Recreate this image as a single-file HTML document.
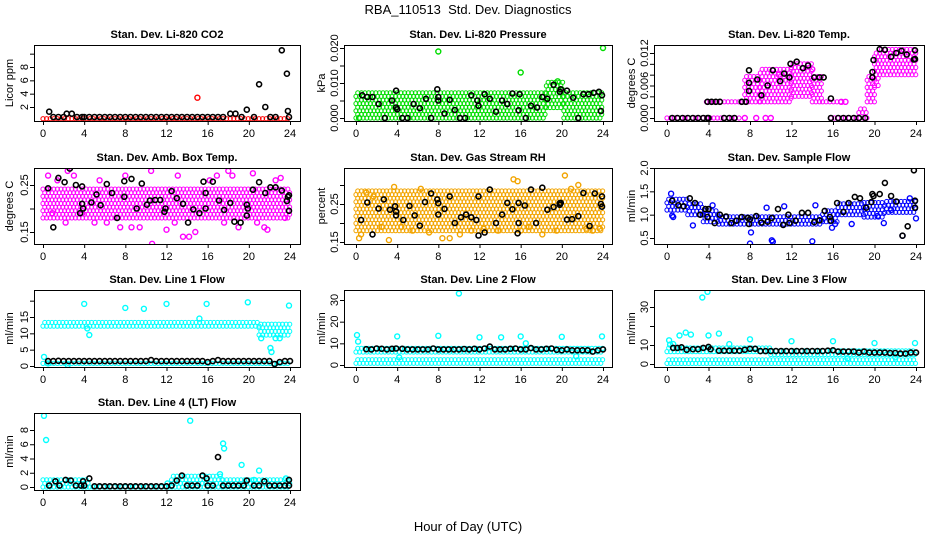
<!DOCTYPE html>
<html><head><meta charset="utf-8">
<style>
html,body{margin:0;padding:0;background:#fff;}
svg{display:block;font-family:"Liberation Sans",Arial,sans-serif;}
</style></head>
<body>
<svg id="chart" width="936" height="540" viewBox="0 0 936 540">
<text x="468" y="14" text-anchor="middle" font-size="13" xml:space="preserve">RBA_110513  Std. Dev. Diagnostics</text>
<text x="468" y="531" text-anchor="middle" font-size="13">Hour of Day (UTC)</text>
</svg>
<script>
// ---------- DATA ----------
const hourTicks = [0,4,8,12,16,20,24];

// Panel 1: CO2
const co2BandStart=[0], co2BandEnd=[24], co2BandLo=[0.25], co2BandHi=[0.75];
const co2ExtraH=[15.0], co2ExtraV=[3.4];
const co2BlackH=[0.6,1.0,1.5,2.0,2.3,2.8,3.3,3.8,4.0,4.5,5.0,5.5,6.0,6.5,7.0,7.5,8.0,8.5,9.0,9.5,10,10.5,11,11.5,12,12.5,13,13.5,14,14.5,15,15.5,16,16.5,17,17.5,18.2,18.7,19.3,19.8,20.5,21.0,21.6,22.1,22.6,23.2,23.7,23.8,23.9];
const co2BlackV=[1.3,.5,.5,.5,1.0,1.0,.5,.5,.5,.5,.5,.5,.5,.5,.5,.5,.5,.5,.5,.5,.5,.5,.5,.5,.5,.5,.5,.5,.5,.5,.5,.5,.5,.5,.5,.5,1.0,1.0,.5,1.6,.5,5.4,2.0,.5,.5,10.5,7.0,1.4,.5];
const co2Ticks=[2,4,6,8,10], co2TickLabels=["2","4","6","8",""];

// Panel 2: Pressure
const prBandStart=[0,18.5,20.2], prBandEnd=[18.5,20.2,24], prBandLo=[0,0.003,0], prBandHi=[0.0072,0.0102,0.0072];
const prExtraH=[8,16,24,0.3,19.6], prExtraV=[0.019,0.013,0.020,0,0.0105];
const prBlackH=[0.6,1.1,1.6,2.2,2.8,3.5,3.9,3.9,4.0,4.5,5.0,5.6,6.2,6.8,7.3,7.9,8.0,8.0,8.6,9.1,9.6,10.1,10.6,11.2,11.8,11.9,12.5,13.0,13.6,14.2,14.7,15.2,15.8,15.9,16.5,17.0,17.6,18.1,18.6,19.2,19.8,19.9,20.5,21.1,21.6,22.1,22.6,23.1,23.6,23.8,23.9];
const prBlackV=[.0065,.006,.006,.004,0,.005,.0078,.003,.0025,0,0,.004,.0028,.0055,0,.0082,.006,.005,.0013,.0052,.0023,0,0,.0065,.005,.0035,.0068,.0055,.0018,.005,.004,.007,.0022,.0068,0,.0035,.003,.006,.0055,.0095,.0075,.0082,.0078,.0058,0,.0068,.0068,.0072,.0075,.002,.0065];
const prTicks=[0,0.005,0.010,0.015,0.020], prTickLabels=["0.000","","0.010","","0.020"];

// Panel 3: Li-820 Temp
const tpBandStart=[0,15.8,3.8,7.5,9,12,14,15,18.5,19.3,20,20.5], tpBandEnd=[7.2,19.3,7.5,9,12,14,15,16.8,19.3,20,20.5,24];
const tpBandLo=[0,0,0.003,0.003,0.003,0.004,0.003,0.003,0.001,0.003,0.006,0.008], tpBandHi=[0,0,0.0035,0.008,0.009,0.010,0.008,0.003,0.002,0.008,0.012,0.0128];
const tpExtraH=[7.5,8.6,9.5,10.0,10.8,14.0,16.8,17.2], tpExtraV=[0,0,0,0,0.008,0.009,0.003,0.003];
const tpBlackH=[0.5,1.0,1.5,2.0,2.5,3.0,3.5,3.9,4.0,5.5,6.0,6.5,3.9,4.3,4.7,5.1,7.2,7.6,7.9,7.9,7.9,8.7,9.1,9.7,10.2,10.9,11.3,11.8,11.9,12.5,13.1,13.6,14.2,14.7,15.1,15.8,15.8,16.5,17.0,17.5,18.0,18.5,19.1,19.8,19.8,19.9,20.5,21.0,21.6,22.1,22.6,23.1,23.8,23.9,23.9];
const tpBlackV=[0,0,0,0,0,0,0,0,0,0,0,0,.003,.003,.003,.003,.003,.003,.0088,.0065,.005,.0071,.0042,.006,.0088,.0068,.0082,.0075,.010,.0104,.0092,.0097,.0075,.0075,.0075,.0036,0,0,0,0,0,0,0,.0075,.0085,.0107,.0127,.0126,.0113,.012,.0124,.0117,.0108,.0125,.0109];
const tpTicks=[0,0.002,0.004,0.006,0.008,0.010,0.012], tpTickLabels=["0.000","","","0.006","","","0.012"];

// Panel 4: Amb Box Temp
const abBandStart=[0], abBandEnd=[24], abBandLo=[0.18], abBandHi=[0.245];
const abExtraH=[0.5,0.9,1.4,2.2,2.4,3.0,3.8,5.0,5.5,6.2,7.5,8.0,8.6,9.4,10.5,10.6,12.0,12.8,13.1,13.6,14.2,14.8,16.2,16.9,17.6,18.0,18.4,19.0,20.4,20.8,21.5,21.8,22.6,23.1,23.5],
      abExtraV=[0.27,0.19,0.26,0.17,0.28,0.27,0.19,0.17,0.26,0.17,0.16,0.27,0.16,0.16,0.28,0.125,0.155,0.17,0.27,0.14,0.14,0.15,0.26,0.27,0.17,0.28,0.27,0.16,0.275,0.17,0.16,0.155,0.26,0.265,0.18];
const abBlackH=[0.5,1.0,1.5,2.1,2.6,3.2,3.6,3.8,3.8,3.9,4.7,5.2,5.6,6.2,6.7,7.2,7.9,7.9,8.6,9.1,9.6,10.1,10.4,10.9,11.4,11.8,11.9,12.5,13.0,13.6,14.1,14.6,15.2,15.6,15.8,15.8,16.5,17.1,17.6,18.2,18.6,19.2,19.8,19.8,19.9,20.4,21.0,21.6,22.1,22.6,23.2,23.7,23.8,23.9,23.9];
const abBlackV=[.243,.16,.265,.256,.285,.25,.19,.247,.21,.20,.213,.23,.207,.252,.233,.18,.258,.225,.263,.20,.253,.208,.217,.218,.218,.193,.200,.237,.222,.21,.17,.198,.19,.257,.233,.20,.257,.217,.197,.212,.172,.17,.208,.185,.20,.24,.256,.233,.245,.245,.238,.216,.225,.228,.195];
const abTicks=[0.15,0.20,0.25], abTickLabels=["0.15","","0.25"];

// Panel 5: Gas Stream RH
const rhBandStart=[0], rhBandEnd=[24], rhBandLo=[0.18], rhBandHi=[0.285];
const rhExtraH=[0.3,0.5,1.0,1.7,2.5,3.2,3.7,4.4,5.5,6.3,7.1,8.4,9.1,10.1,11.2,12.4,13.8,15.3,15.7,16.0,16.8,18.1,19.5,20.3,20.9,21.6,22.4,23.0,23.7],
      rhExtraV=[0.16,0.17,0.28,0.27,0.19,0.155,0.295,0.19,0.18,0.29,0.175,0.16,0.16,0.17,0.18,0.185,0.18,0.315,0.31,0.18,0.19,0.17,0.18,0.325,0.29,0.3,0.185,0.18,0.185];
const rhBlackH=[0.5,1.1,1.6,2.2,2.7,3.3,3.8,3.9,3.9,4.6,5.2,5.7,6.2,6.7,7.3,7.9,8.0,8.0,8.6,9.1,9.6,10.2,10.7,11.2,11.7,11.9,11.9,12.5,13.0,13.6,14.2,14.7,15.2,15.7,15.8,15.8,16.4,17.0,17.5,18.1,18.6,19.2,19.8,19.8,19.9,20.5,21.0,21.6,22.1,22.7,23.2,23.8,23.9,23.9];
const rhBlackV=[.208,.254,.17,.238,.262,.235,.244,.23,.22,.208,.245,.22,.193,.255,.278,.262,.252,.222,.237,.27,.2,.215,.222,.215,.208,.27,.167,.175,.288,.2,.222,.253,.236,.173,.253,.2,.246,.288,.2,.293,.235,.242,.252,.248,.253,.209,.21,.218,.279,.192,.278,.25,.27,.243];
const rhTicks=[0.15,0.20,0.25,0.30], rhTickLabels=["0.15","","0.25",""];

// Panel 6: Sample Flow
const sfBandStart=[0,2,3.5,5,15,16.5,19,21], sfBandEnd=[2,3.5,5,15,16.5,19,21,24];
const sfBandLo=[1.1,1.0,0.85,0.8,0.85,1.0,0.95,1.05], sfBandHi=[1.35,1.3,1.15,1.0,1.1,1.25,1.3,1.3];
const sfExtraH=[0.4,0.5,0.6,2.5,4.4,8.0,8.1,9.6,10.1,10.2,11.3,14.0,14.3,15.9,16.2,17.8,20.3,20.9,21.6,22.7,23.4,24.0],
      sfExtraV=[1.45,0.98,0.95,0.77,1.2,0.38,0.62,1.15,0.45,0.42,1.18,0.43,1.2,0.72,0.8,0.8,0.97,0.82,1.1,0.55,1.35,0.92];
const sfBlackH=[0.5,1.1,1.6,2.2,2.7,3.2,3.7,3.9,4.0,4.6,5.1,5.7,6.2,6.7,7.2,7.8,7.9,8.0,8.6,9.1,9.7,10.1,10.7,11.2,11.7,11.8,12.4,13.0,13.6,14.2,14.7,15.2,15.7,15.8,16.4,17.0,17.5,18.1,18.6,19.2,19.7,19.8,19.9,20.5,21.0,21.6,22.1,22.7,23.2,23.8,23.9,23.9];
const sfBlackV=[1.3,1.2,1.18,1.35,1.25,1.0,1.12,0.95,1.12,0.82,1.0,0.96,0.82,0.87,0.95,0.93,0.8,0.9,0.97,0.83,0.85,0.93,1.12,0.78,1.0,0.82,0.87,1.04,1.04,0.84,0.88,1.08,0.95,0.87,1.25,1.06,1.25,1.38,1.35,1.15,1.27,1.44,1.4,1.44,1.68,1.4,1.28,0.55,0.75,1.95,1.3,1.15];
const sfTicks=[0.5,1.0,1.5,2.0], sfTickLabels=["0.5","1.0","1.5","2.0"];

// Panel 7: Line 1 Flow
const l1BandStart=[0,21,0], l1BandEnd=[21,24,24], l1BandLo=[12.2,9.5,0.8], l1BandHi=[13.6,13.5,1.8];
const l1ExtraH=[0.1,0.5,2.4,4.0,4.3,4.5,8.0,9.8,12.0,15.2,15.9,19.9,21.2,22.1,22.2,22.6,23.0,23.9],
      l1ExtraV=[2.8,0.8,0.3,19.0,11.5,9.5,17.8,17.5,19.0,14.5,19.0,19.5,8.5,5.5,4.3,8.5,8.5,18.5];
const l1BlackH=[0.5,1.0,1.5,2.0,2.5,3.0,3.5,4.0,4.5,5.0,5.5,6.0,6.5,7.0,7.5,8.0,8.5,9.0,9.5,10.0,10.5,11.0,11.5,12.0,12.5,13.0,13.5,14.0,14.5,15.0,15.5,16.0,16.5,17.0,17.5,18.0,18.5,19.0,19.5,20.0,20.5,21.0,21.5,22.0,22.5,23.0,23.5,24.0];
const l1BlackV=[1.5,1.5,1.6,1.5,1.5,1.5,1.5,1.5,1.5,1.5,1.5,1.5,1.5,1.5,1.5,1.5,1.5,1.5,1.5,1.5,1.8,1.5,1.5,1.5,1.5,1.5,1.5,1.5,1.5,1.5,1.5,1.2,1.5,1.8,1.5,1.5,1.5,1.5,1.5,1.5,1.5,1.5,1.5,1.5,0.6,1.2,1.5,1.5];
const l1Ticks=[0,5,10,15,20], l1TickLabels=["0","5","10","15",""];

// Panel 8: Line 2 Flow
const l2BandStart=[0,0], l2BandEnd=[24,24], l2BandLo=[6,0.8], l2BandHi=[8,2.5];
const l2ExtraH=[0.1,0.2,4.0,4.2,8.0,10.0,12.0,14.1,16.0,16.5,20.0,21.4,23.9],
      l2ExtraV=[13.8,10.8,13.2,3.5,13.5,33.0,12.8,12.8,13.2,10.0,13.0,4.0,13.2];
const l2BlackH=[1.0,1.5,2.0,2.5,3.0,3.5,3.9,4.5,5.0,5.5,6.0,6.5,7.0,7.5,8.0,8.5,9.0,9.5,10.0,10.5,11.0,11.5,12.0,12.5,13.0,13.5,14.0,14.5,15.0,15.5,16.0,16.5,17.0,17.5,18.0,18.5,19.0,19.5,20.0,20.5,21.0,21.5,22.0,22.5,23.0,23.5,24.0];
const l2BlackV=[7.3,7.2,7.6,7.5,7.2,7.5,7.6,7.5,7.2,7.2,7.2,7.2,7.2,7.6,7.2,7.2,7.2,7.2,7.2,7.4,7.2,7.5,7.2,7.6,8.5,7.2,7.2,7.2,7.5,7.6,7.2,7.2,7.8,7.2,7.2,7.5,7.6,7.0,6.8,7.2,6.8,6.8,6.8,6.8,6.2,6.8,7.2];
const l2Ticks=[0,10,20,30], l2TickLabels=["0","10","20","30"];

// Panel 9: Line 3 Flow
const l3BandStart=[0,10,0], l3BandEnd=[10,24,24], l3BandLo=[6.5,5,0.3], l3BandHi=[9.5,7.5,2.2];
const l3ExtraH=[0.2,0.3,0.6,1.2,1.8,2.3,3.4,3.9,4.0,5.0,6.0,8.0,12.0,16.0,17.4,20.0,22.0,23.9],
      l3ExtraV=[12.5,10.2,10.5,15.0,16.5,15.5,35.0,38.0,15.0,16.0,10.5,13.0,12.0,12.0,3.0,11.0,3.5,11.0];
const l3BlackH=[0.6,1.0,1.4,1.9,2.5,3.0,3.5,4.0,4.2,5.0,5.5,6.0,6.5,7.0,7.5,8.0,8.5,9.0,9.5,10.0,10.5,11.0,11.5,12.0,12.5,13.0,13.5,14.0,14.5,15.0,15.5,16.0,16.5,17.0,17.5,18.0,18.5,19.0,19.5,20.0,20.5,21.0,21.5,22.0,22.5,23.0,23.5,24.0];
const l3BlackV=[8.5,8.5,8.8,7.5,7.8,7.8,8.5,9.0,7.8,7.0,7.0,7.0,7.0,7.0,7.5,8.0,8.0,6.8,6.8,6.8,6.8,6.8,6.8,6.8,6.8,6.8,6.8,6.8,6.8,6.8,7.0,7.2,6.5,6.5,6.5,6.5,6.0,6.5,6.0,6.0,6.0,6.0,5.8,5.8,5.5,5.5,6.0,6.0];
const l3Ticks=[0,10,20,30], l3TickLabels=["0","10","","30"];

// Panel 10: Line 4 (LT) Flow
const l4BandStart=[0,4.5,12.5,17.5], l4BandEnd=[4.5,12.5,17.5,24], l4BandLo=[0,0,0,0], l4BandHi=[1.2,0.15,1.8,1.1];
const l4ExtraH=[0.1,0.3,12.1,14.3,17.5,17.6,17.2,19.3,20.5,21.0,23.6],
      l4ExtraV=[10.0,6.6,0.5,9.3,6.1,5.4,1.8,3.1,1.0,2.3,1.2];
const l4BlackH=[0.6,1.2,1.6,2.2,2.7,3.2,3.7,3.9,4.0,4.5,5.0,5.5,6.0,6.5,7.0,7.5,8.0,8.5,9.0,9.5,10.0,10.5,11.0,11.5,12.0,12.5,13.0,13.5,14.0,14.5,15.0,15.5,15.9,16.0,16.5,17.0,17.5,18.0,18.5,19.0,19.5,19.8,20.5,21.0,21.5,22.0,22.5,23.0,23.5,23.9,23.9];
const l4BlackV=[0.2,0.8,0.2,1.0,0.9,0.2,0.2,0.8,0.2,1.2,0.1,0.1,0.1,0.1,0.1,0.1,0.1,0.1,0.1,0.1,0.1,0.1,0.1,0.1,0.1,0.2,0.9,1.6,0.2,0.2,0.2,1.6,1.2,0.2,0.2,4.2,0.2,0.2,0.2,0.2,0.2,0.9,0.2,0.2,0.8,0.2,0.2,0.2,0.2,1.0,0.2];
const l4Ticks=[0,2,4,6,8], l4TickLabels=["0","2","4","6","8"];

// ---------- LAYOUT (not data) ----------
const COLS=[{bx0:34,bx1:300,h0:43,h24:290,lab:9},{bx0:344,bx1:612,h0:356,h24:603,lab:321},{bx0:654,bx1:924,h0:667,h24:916,lab:631}];
const ROWS=[{by0:45,by1:121},{by0:168,by1:244},{by0:290,by1:367},{by0:413,by1:490}];
const panels=[
 {name:"co2",title:"Stan. Dev. Li-820 CO2",ylab:"Licor ppm",c:0,r:0,color:"#ff0000",ya:[2,107],yb:[8,67],bs:co2BandStart,be:co2BandEnd,bl:co2BandLo,bh:co2BandHi,eh:co2ExtraH,ev:co2ExtraV,kh:co2BlackH,kv:co2BlackV,t:co2Ticks,tl:co2TickLabels},
 {name:"pressure",title:"Stan. Dev. Li-820 Pressure",ylab:"kPa",c:1,r:0,color:"#00dd00",ya:[0,118],yb:[0.02,48],bs:prBandStart,be:prBandEnd,bl:prBandLo,bh:prBandHi,eh:prExtraH,ev:prExtraV,kh:prBlackH,kv:prBlackV,t:prTicks,tl:prTickLabels},
 {name:"li820-temp",title:"Stan. Dev. Li-820 Temp.",ylab:"degrees C",c:2,r:0,color:"#ff00ff",ya:[0,118],yb:[0.012,53],bs:tpBandStart,be:tpBandEnd,bl:tpBandLo,bh:tpBandHi,eh:tpExtraH,ev:tpExtraV,kh:tpBlackH,kv:tpBlackV,t:tpTicks,tl:tpTickLabels},
 {name:"amb-box-temp",title:"Stan. Dev. Amb. Box Temp.",ylab:"degrees C",c:0,r:1,color:"#ff00ff",ya:[0.15,232],yb:[0.25,185],bs:abBandStart,be:abBandEnd,bl:abBandLo,bh:abBandHi,eh:abExtraH,ev:abExtraV,kh:abBlackH,kv:abBlackV,t:abTicks,tl:abTickLabels},
 {name:"gas-stream-rh",title:"Stan. Dev. Gas Stream RH",ylab:"percent",c:1,r:1,color:"#f2a400",ya:[0.15,242],yb:[0.25,204],bs:rhBandStart,be:rhBandEnd,bl:rhBandLo,bh:rhBandHi,eh:rhExtraH,ev:rhExtraV,kh:rhBlackH,kv:rhBlackV,t:rhTicks,tl:rhTickLabels},
 {name:"sample-flow",title:"Stan. Dev. Sample Flow",ylab:"ml/min",c:2,r:1,color:"#0000ff",ya:[0.5,238],yb:[2.0,168],bs:sfBandStart,be:sfBandEnd,bl:sfBandLo,bh:sfBandHi,eh:sfExtraH,ev:sfExtraV,kh:sfBlackH,kv:sfBlackV,t:sfTicks,tl:sfTickLabels},
 {name:"line1-flow",title:"Stan. Dev. Line 1 Flow",ylab:"ml/min",c:0,r:2,color:"#00ffff",ya:[0,366],yb:[15,317],bs:l1BandStart,be:l1BandEnd,bl:l1BandLo,bh:l1BandHi,eh:l1ExtraH,ev:l1ExtraV,kh:l1BlackH,kv:l1BlackV,t:l1Ticks,tl:l1TickLabels},
 {name:"line2-flow",title:"Stan. Dev. Line 2 Flow",ylab:"ml/min",c:1,r:2,color:"#00ffff",ya:[0,365],yb:[30,300],bs:l2BandStart,be:l2BandEnd,bl:l2BandLo,bh:l2BandHi,eh:l2ExtraH,ev:l2ExtraV,kh:l2BlackH,kv:l2BlackV,t:l2Ticks,tl:l2TickLabels},
 {name:"line3-flow",title:"Stan. Dev. Line 3 Flow",ylab:"ml/min",c:2,r:2,color:"#00ffff",ya:[0,364],yb:[30,307],bs:l3BandStart,be:l3BandEnd,bl:l3BandLo,bh:l3BandHi,eh:l3ExtraH,ev:l3ExtraV,kh:l3BlackH,kv:l3BlackV,t:l3Ticks,tl:l3TickLabels},
 {name:"line4-flow",title:"Stan. Dev. Line 4 (LT) Flow",ylab:"ml/min",c:0,r:3,color:"#00ffff",ya:[0,487],yb:[8,430],bs:l4BandStart,be:l4BandEnd,bl:l4BandLo,bh:l4BandHi,eh:l4ExtraH,ev:l4ExtraV,kh:l4BlackH,kv:l4BlackV,t:l4Ticks,tl:l4TickLabels}
];

const NS="http://www.w3.org/2000/svg";
const svg=document.getElementById("chart");
function mk(tag,attrs,parent){const e=document.createElementNS(NS,tag);for(const k in attrs)e.setAttribute(k,attrs[k]);(parent||svg).appendChild(e);return e;}

panels.forEach(p=>{
  const C=COLS[p.c], R=ROWS[p.r];
  const g=mk("g",{});
  
  
  const xs=h=>C.h0+(C.h24-C.h0)*h/24;
  const ys=v=>p.ya[1]+(p.yb[1]-p.ya[1])*(v-p.ya[0])/(p.yb[0]-p.ya[0]);
  const cid="clip-"+p.name;
  const cp=mk("clipPath",{id:cid},g);
  mk("rect",{x:C.bx0,y:R.by0,width:C.bx1-C.bx0,height:R.by1-R.by0},cp);
  const pts=mk("g",{"clip-path":"url(#"+cid+")"},g);
  
  
  const STEP=3.6;
  for(let i=0;i<p.bs.length;i++){
    const x0=xs(p.bs[i]), x1=xs(p.be[i]);
    const yTop=ys(p.bh[i]), yBot=ys(p.bl[i]);
    let row=0;
    for(let y=yBot; y>=yTop-0.01 || row===0; y-=STEP,row++){
      for(let x=x0+(row%2?STEP/2:0); x<=x1; x+=STEP){
        const c=mk("circle",{cx:x.toFixed(1),cy:y.toFixed(1),r:2.1,fill:"none",stroke:p.color,"stroke-width":1},pts);
        
        
      }
      if(yTop>=yBot) break;
    }
  }
  for(let i=0;i<p.eh.length;i++){
    const c=mk("circle",{cx:xs(p.eh[i]).toFixed(1),cy:ys(p.ev[i]).toFixed(1),r:2.5,fill:"none",stroke:p.color,"stroke-width":1.4},pts);
    
    
  }
  for(let i=0;i<p.kh.length;i++){
    const c=mk("circle",{cx:xs(p.kh[i]).toFixed(1),cy:ys(p.kv[i]).toFixed(1),r:2.5,fill:"none",stroke:"#000","stroke-width":1.6},pts);
    
    
  }
  const box=mk("rect",{x:C.bx0+0.5,y:R.by0+0.5,width:C.bx1-C.bx0,height:R.by1-R.by0,fill:"none",stroke:"#000","stroke-width":1},g);
  
  
  const t=mk("text",{x:(C.bx0+C.bx1)/2,y:R.by0-7,"text-anchor":"middle","font-size":"11","font-weight":"bold"},g);
  t.textContent=p.title;
  
  
  const xa=mk("g",{},g);
  
  
  mk("line",{x1:xs(0),x2:xs(24),y1:R.by1+0.5,y2:R.by1+0.5,stroke:"#000"},xa);
  hourTicks.forEach(h=>{
    mk("line",{x1:xs(h)+0.5,x2:xs(h)+0.5,y1:R.by1,y2:R.by1+4,stroke:"#000"},xa);
    const lt=mk("text",{x:xs(h),y:R.by1+16,"text-anchor":"middle","font-size":"11"},xa);
    lt.textContent=h;
    
    
  });
  const ya=mk("g",{},g);
  
  
  const yt0=ys(p.t[0]), yt1=ys(p.t[p.t.length-1]);
  mk("line",{x1:C.bx0+0.5,x2:C.bx0+0.5,y1:yt0,y2:yt1,stroke:"#000"},ya);
  p.t.forEach((v,i)=>{
    const y=ys(v);
    mk("line",{x1:C.bx0-4,x2:C.bx0,y1:y+0.5,y2:y+0.5,stroke:"#000"},ya);
    if(p.tl[i]){
      const lt=mk("text",{x:C.bx0-9,y:y,"text-anchor":"middle","font-size":"11",transform:`rotate(-90 ${C.bx0-9} ${y})`,"dominant-baseline":"middle"},ya);
      lt.textContent=p.tl[i];
      
      
    }
  });
  const yl=mk("text",{x:C.lab+4,y:(R.by0+R.by1)/2,"text-anchor":"middle","font-size":"11",transform:`rotate(-90 ${C.lab+4} ${(R.by0+R.by1)/2})`},g);
  yl.textContent=p.ylab;
  
  
});
</script>
</body></html>
